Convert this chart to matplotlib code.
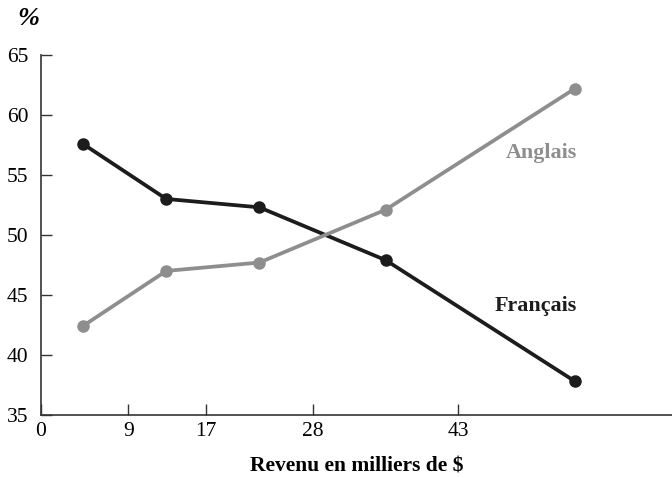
import matplotlib.pyplot as plt

plt.rcParams['font.family'] = ['Liberation Serif', 'DejaVu Serif']

# Données
revenu = [4.3, 12.9, 22.5, 35.5, 55.0]
francais = [57.6, 53.0, 52.3, 47.9, 37.8]
anglais = [42.4, 47.0, 47.7, 52.1, 62.2]
xticks = [0, 9, 17, 28, 43]
yticks = [35, 40, 45, 50, 55, 60, 65]

fig = plt.figure(figsize=(6.72, 4.78), dpi=100)
ax = fig.add_axes([0.061, 0.132, 0.939, 0.753])

black = '#1c1c1c'
gray = '#8e8e8e'
ax.plot(revenu, francais, color=black, lw=2.7, marker='o', ms=8, clip_on=False, zorder=3)
ax.plot(revenu, anglais, color=gray, lw=2.7, marker='o', ms=8, clip_on=False, zorder=3)

ax.text(51.5, 56.8, "Anglais", color=gray, fontsize=15.8, fontweight='bold', ha='center', va='center')
ax.text(51.0, 44.1, "Français", color=black, fontsize=15.8, fontweight='bold', ha='center', va='center')

ax.set_xlim(0, 65)
ax.set_ylim(35, 65)
ax.set_xticks(xticks)
ax.set_yticks(yticks)
ax.tick_params(direction='in', length=8, width=1, color='#333333', labelsize=15.5)
ax.tick_params(axis='y', pad=9)
ax.tick_params(axis='x', pad=5)
for s in ['top', 'right']:
    ax.spines[s].set_visible(False)
for s in ['left', 'bottom']:
    ax.spines[s].set_color('#333333')
    ax.spines[s].set_linewidth(1.2)

ax.set_xlabel("Revenu en milliers de $", fontsize=15.5, fontweight='bold', labelpad=11)
fig.text(0.042, 0.962, "%", fontsize=19, fontweight='bold', fontstyle='italic', ha='center', va='center')

fig.savefig("out.png", dpi=100)
